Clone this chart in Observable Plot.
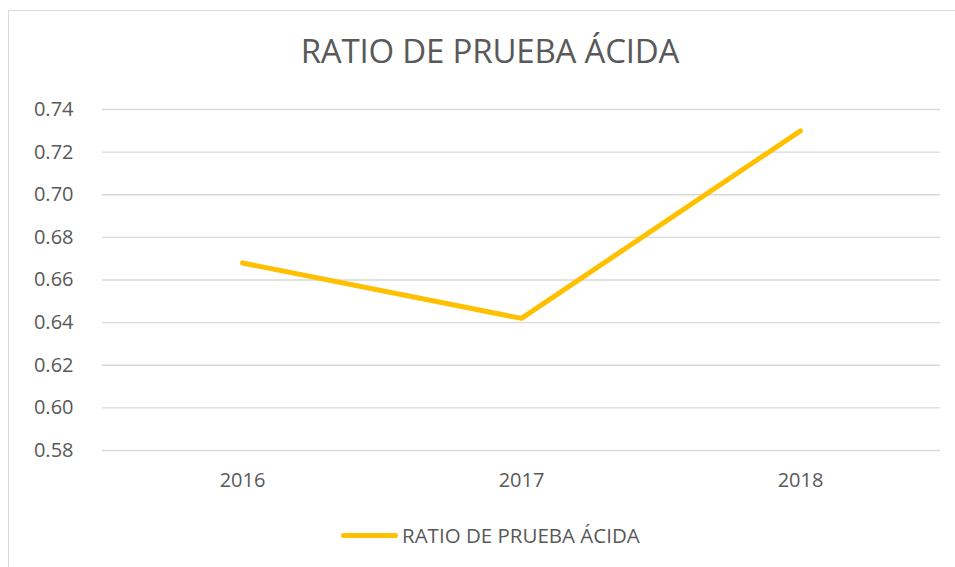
<!DOCTYPE html>
<html>
<head>
<meta charset="utf-8">
<script src="https://cdn.jsdelivr.net/npm/d3@7"></script>
<script src="https://cdn.jsdelivr.net/npm/@observablehq/plot@0.6"></script>
<style>
  body { margin: 0; background: #fff; font-family: "Open Sans", sans-serif; }
  #frame { position: absolute; left: 8px; top: 10px; width: 963px; height: 570px; border: 1px solid #d9d9d9; box-sizing: border-box; }
  #title { position: absolute; left: 8px; width: 964px; top: 28px; text-align: center; font-size: 33px; line-height: 45px; color: #595959; letter-spacing: -0.2px; }
  #chart { position: absolute; left: 0; top: 90px; }
  #legend { position: absolute; left: 341px; top: 520px; display: flex; align-items: center; font-size: 20.5px; line-height: 30px; color: #595959; }
  #legend .sw { width: 57px; height: 5px; background: #FFC000; border-radius: 3px; margin-right: 4px; }
</style>
</head>
<body>
<div id="frame"></div>
<div id="title">RATIO DE PRUEBA ÁCIDA</div>
<div id="chart"></div>
<div id="legend"><div class="sw"></div><span>RATIO DE PRUEBA ÁCIDA</span></div>
<script>
const years = ["2016", "2017", "2018"];
const ratio = [0.668, 0.642, 0.730];
const yTicks = [0.58, 0.60, 0.62, 0.64, 0.66, 0.68, 0.70, 0.72, 0.74];

const data = years.map((y, i) => ({year: y, value: ratio[i]}));

const chart = Plot.plot({
  width: 955,
  height: 410,
  marginLeft: 102,
  marginRight: 15,
  marginTop: 19,
  marginBottom: 50,
  style: {fontFamily: "Open Sans, sans-serif", fontSize: "20px", color: "#595959", background: "transparent"},
  x: {type: "point", domain: years, padding: 0.5, label: null, tickSize: 0, tickPadding: 22},
  y: {domain: [0.58, 0.74], ticks: yTicks, tickFormat: d3.format(".2f"), label: null, tickSize: 0, tickPadding: 29},
  marks: [
    Plot.ruleY(yTicks, {stroke: "#d9d9d9", strokeWidth: 1.3}),
    Plot.line(data, {x: "year", y: "value", stroke: "#FFC000", strokeWidth: 5, strokeLinecap: "round", strokeLinejoin: "round"})
  ]
});
document.getElementById("chart").appendChild(chart);
</script>
</body>
</html>
